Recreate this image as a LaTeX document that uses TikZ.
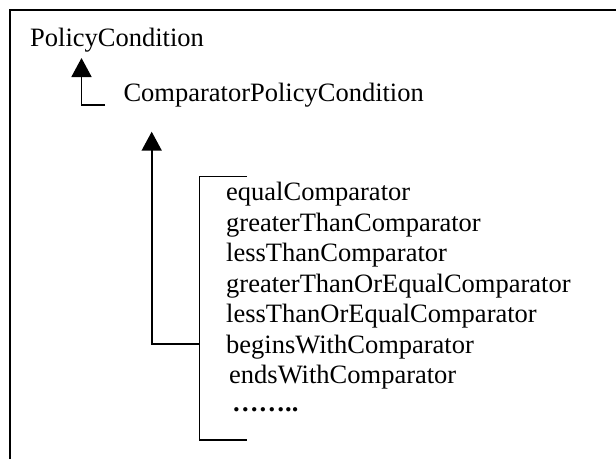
\documentclass[tikz,border=0pt]{standalone}
\usepackage{fontspec}
\setmainfont{Liberation Serif}
\usetikzlibrary{arrows.meta}
\begin{document}
\begin{tikzpicture}[x=1pt,y=-1pt,
  lbl/.style={anchor=base west,inner sep=0pt,font=\fontsize{26.5}{30}\selectfont},
  link/.style={line width=1.8pt,-{Triangle[width=20pt,length=19pt]}},
  brace/.style={line width=1.5pt},
  frameline/.style={line width=1.8pt}]
\useasboundingbox (0,0) rectangle (616,459);
% frame
\draw[frameline] (10,459) -- (10,10) -- (616,10);
% class names
\node[lbl] (pc)  at (30,46.7)   {PolicyCondition};
\node[lbl] (cpc) at (123.3,101.7) {ComparatorPolicyCondition};
% comparator values
\node[lbl] (i1) at (226,200.7) {equalComparator};
\node[lbl] (i2) at (226,231.2) {greaterThanComparator};
\node[lbl] (i3) at (226,261.7) {lessThanComparator};
\node[lbl] (i4) at (226,292.2) {greaterThanOrEqualComparator};
\node[lbl] (i5) at (226,322.7) {lessThanOrEqualComparator};
\node[lbl] (i6) at (226,353.2) {beginsWithComparator};
\node[lbl] (i7) at (229,383.7) {endsWithComparator};
\node[lbl] (i8) at (232,411.5) {\textbf{……..}};
% bracket grouping the values
\draw[brace] (247,176.7) -- (199.3,176.7) coordinate (btop) -- (199.3,440) coordinate (bbot) -- (247,440);
% inheritance arrows
\draw[link] ([shift={(-18.3pt,-3.3pt)}]cpc.base west) -| ([shift={(51.5pt,-11.3pt)}]pc.base west);
\draw[link] ([shift={(-26.7pt,8.9pt)}]i6.base west) -| ([shift={(28.4pt,-30pt)}]cpc.base west);
\end{tikzpicture}
\end{document}
